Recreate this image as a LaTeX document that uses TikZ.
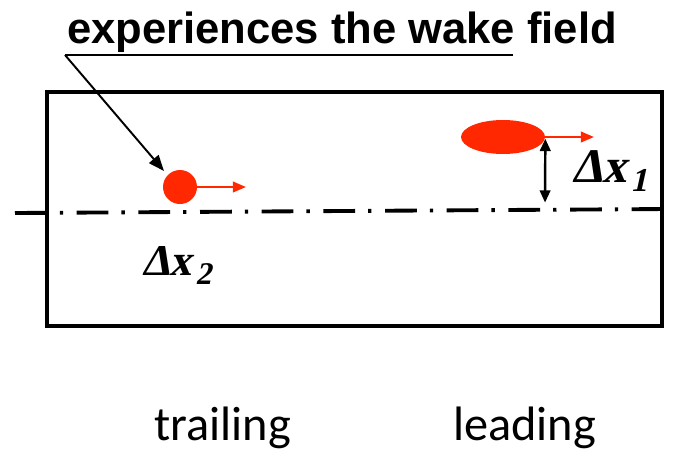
\documentclass[tikz,border=0pt]{standalone}
\usepackage{fontspec}
\setmainfont{Liberation Serif}
\newfontfamily\titlefont{Liberation Sans}
\newfontfamily\labfont{Carlito}
\newfontfamily\dxfont{Liberation Serif}[FakeSlant=0.22]
\usetikzlibrary{arrows.meta,shapes.geometric}
\definecolor{beamred}{RGB}{255,40,0}
\begin{document}
\begin{tikzpicture}[x=0.02cm,y=-0.02cm,
  boxline/.style={draw=black,line width=2.3pt},
  axisline/.style={draw=black,line width=2.2pt,dash pattern=on 18.1pt off 7.4pt on 1.9pt off 7.7pt},
  thinline/.style={draw=black,line width=1.1pt},
  pointer/.style={thinline,-{Triangle[length=9pt,width=7pt]}},
  redarrow/.style={draw=beamred,line width=1.3pt,-{Triangle[length=7.5pt,width=6pt]}},
  dblarrow/.style={draw=black,line width=1.4pt,{Triangle[length=7pt,width=6pt]}-{Triangle[length=7pt,width=6pt]}},
  bunch/.style={fill=beamred,inner sep=0pt},
  titletext/.style={font=\titlefont\bfseries\fontsize{24.8pt}{28pt}\selectfont,inner sep=0pt},
  dxtext/.style={font=\dxfont\bfseries,inner sep=0pt},
  labtext/.style={font=\labfont\fontsize{27.5pt}{30pt}\selectfont,inner sep=0pt}
]
\useasboundingbox (0,0) rectangle (675,450);
% box
\draw[boxline] (47,92) rectangle (662,326);
% axis
\coordinate (axL) at (15,213);
\coordinate (axR) at (668,209);
\draw[axisline] (axL) -- (axR);
% bunches
\node[bunch,circle,minimum size=0.68cm] (trail) at (180,187) {};
\node[bunch,ellipse,minimum width=1.68cm,minimum height=0.68cm] (lead) at (503,137) {};
\coordinate (trailtip) at (246,187);
\coordinate (leadtip) at (594,137);
\draw[redarrow] (trail.east) -- (trailtip);
\draw[redarrow] (lead.east) -- (leadtip);
% offset arrow
\coordinate (axpt) at (545,209.6);
\draw[dblarrow,shorten <=1pt,shorten >=4pt] (lead.east) -- (axpt);
% title and pointer
\node[titletext,anchor=base] (title) at (342,43) {experiences the wake field};
\coordinate (ulL) at (65,55);
\coordinate (ulR) at (513,55);
\coordinate (ptip) at (164,171);
\draw[thinline] (ulR) -- (ulL);
\draw[pointer] (ulL) -- (ptip);
% labels
\node[dxtext,anchor=base west] (dx1) at (572,182)
  {\fontsize{27.5pt}{30pt}\selectfont Δx\kern2pt\raisebox{-5.5pt}{\fontsize{19pt}{21pt}\selectfont 1}};
\node[dxtext,anchor=base west] (dx2) at (142,275)
  {\fontsize{25pt}{28pt}\selectfont Δx\kern2pt\raisebox{-5.5pt}{\fontsize{18pt}{20pt}\selectfont 2}};
\node[labtext,anchor=base] (trailing) at (222.5,440) {trailing};
\node[labtext,anchor=base] (leading) at (524.5,440) {leading};
\end{tikzpicture}
\end{document}
